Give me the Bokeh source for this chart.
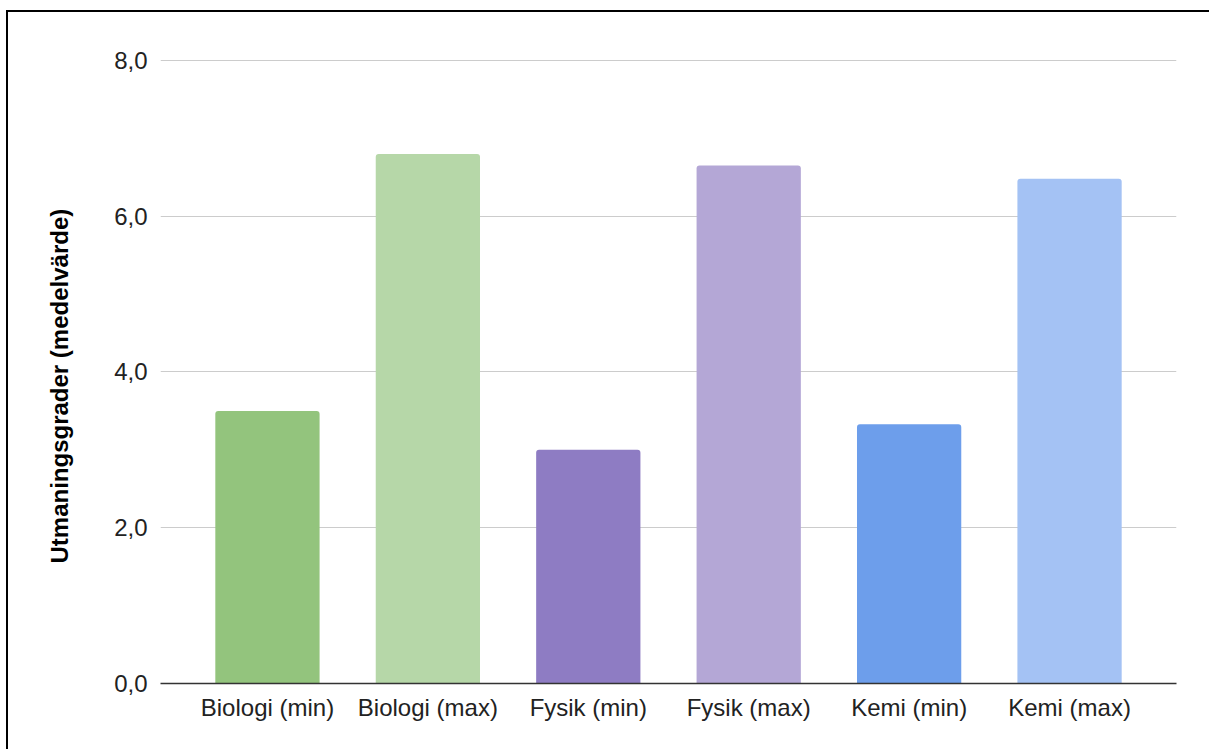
from bokeh.plotting import figure
from bokeh.models import FactorRange, Range1d, FixedTicker, ColumnDataSource, Title
from bokeh.embed import file_html
from bokeh.resources import INLINE

categories = ["Biologi (min)", "Biologi (max)", "Fysik (min)", "Fysik (max)", "Kemi (min)", "Kemi (max)"]
values = [3.5, 6.8, 3.0, 6.65, 3.33, 6.48]
colors = ["#93c47d", "#b6d7a8", "#8e7cc3", "#b4a7d6", "#6d9eeb", "#a4c2f4"]
y_ticks = [0, 2, 4, 6, 8]
y_tick_labels = ["0,0", "2,0", "4,0", "6,0", "8,0"]
y_title = "Utmaningsgrader (medelvärde)"

src = ColumnDataSource(dict(cat=categories, val=values, color=colors))

FONT = "Liberation Sans"

p = figure(
    width=1203, height=739,
    x_range=FactorRange(factors=categories, range_padding=0.1667, range_padding_units="absolute"),
    y_range=Range1d(0, 8.012),
    output_backend="svg", toolbar_location=None,
    min_border_left=150, min_border_right=35, min_border_top=47, min_border_bottom=68,
    styles={"margin-left": "6px", "margin-top": "10px",
            "border-left": "2px solid #000", "border-top": "2px solid #000"},
)

p.vbar(x="cat", top="val", width=0.65, source=src, fill_color="color",
       line_color=None, border_radius=(3, 3, 0, 0))

p.outline_line_color = None
p.background_fill_color = "white"
p.border_fill_color = "white"

p.xgrid.grid_line_color = None
p.ygrid.grid_line_color = "#cccccc"
p.ygrid.grid_line_width = 1

p.yaxis.ticker = FixedTicker(ticks=y_ticks)
p.yaxis.major_label_overrides = {float(t): l for t, l in zip(y_ticks, y_tick_labels)}
p.yaxis.axis_line_color = None
p.yaxis.major_tick_line_color = None
p.yaxis.minor_tick_line_color = None
p.yaxis.major_tick_out = 0
p.yaxis.major_label_standoff = 13
p.yaxis.major_label_text_font = FONT
p.yaxis.major_label_text_font_size = "24px"
p.yaxis.major_label_text_color = "#222222"

ytitle = Title(text=y_title, align="left", offset=120, standoff=74, vertical_align="top",
               text_font=FONT, text_font_size="24px", text_font_style="bold",
               text_color="#000000")
p.add_layout(ytitle, "left")

p.xaxis.axis_line_color = "#333333"
p.xaxis.axis_line_width = 1.5
p.xaxis.major_tick_line_color = None
p.xaxis.minor_tick_line_color = None
p.xaxis.major_tick_out = 0
p.xaxis.major_label_standoff = 10
p.xaxis.major_label_text_font = FONT
p.xaxis.major_label_text_font_size = "24px"
p.xaxis.major_label_text_color = "#222222"

open("out.html", "w").write(file_html(p, INLINE))
